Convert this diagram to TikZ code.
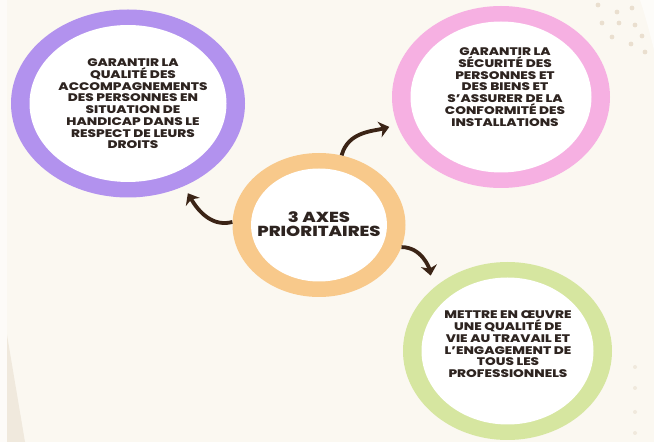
\documentclass[tikz,border=0pt]{standalone}
\usepackage{fontspec}
\newfontfamily\axefont{Poppins}[BoldFont={Poppins ExtraBold},FakeStretch=1.24]
\usetikzlibrary{arrows.meta,calc,shapes.geometric}

\definecolor{fond}{HTML}{FBF8F1}
\definecolor{lavande}{HTML}{B292EE}
\definecolor{rose}{HTML}{F6B0E2}
\definecolor{peche}{HTML}{F8C98B}
\definecolor{anis}{HTML}{D6E6A0}
\definecolor{encre}{HTML}{2E2420}
\definecolor{brun}{HTML}{3B2416}
\definecolor{sable}{HTML}{EADFCF}

\begin{document}
\begin{tikzpicture}
    [x=1pt,y=1pt,
     ring/.style={ellipse,inner sep=0pt,fill=#1,
       path picture={\fill [white] let \p1=(path picture bounding box.north east),
         \p2=(path picture bounding box.center) in
         (\p2) ellipse [x radius=\x1-\x2-18.5pt,y radius=\y1-\y2-15.5pt];}},
     axetext/.style={align=center,inner sep=0pt,text=encre,
       font=\axefont\bfseries\fontsize{11}{11.75}\selectfont},
     flow/.style={-{Stealth[length=10pt,width=16pt,inset=3pt]},line width=3.8pt,draw=brun}]
    \useasboundingbox (0,0) rectangle (654,442);
    % background
    \fill [fond] (0,0) rectangle (654,442);
    \fill [white,opacity=0.5] (0,0) rectangle (7,442);
    \fill [sable!70] (7,107) -- (25,0) -- (7,0) -- cycle;
    \fill [white,opacity=0.6] (640,442) .. controls (646,425) and (652,400) .. (654,392) -- (654,442) -- cycle;
    \foreach \p in {(598,437),(617,430),(632,434),(602,419),(619,419),(635,417),(612,405),(631,398),(642,406),(645,390)}
      \fill [sable] \p circle (2.4);
    \foreach \p in {(635,75),(635,54),(635,30),(635,9)}
      \fill [sable!70] \p circle (2);
    % rings
    \node (qualite)  at (128,338.5) [ring=lavande,minimum width=234pt,minimum height=188pt] {};
    \node (securite) at (501,345)   [ring=rose,minimum width=218pt,minimum height=182pt] {};
    \node (axes)     at (319,217)   [ring=peche,minimum width=173pt,minimum height=144pt] {};
    \node (qvt)      at (507.5,91)  [ring=anis,minimum width=209pt,minimum height=178pt] {};
    % texts
    \node (qualtxt) at (133,338) [axetext]
      {GARANTIR LA\\QUALITÉ DES\\ACCOMPAGNEMENTS\\DES PERSONNES EN\\SITUATION DE\\HANDICAP DANS LE\\RESPECT DE LEURS\\DROITS};
    \node (sectxt) at (505,355) [axetext]
      {GARANTIR LA\\SÉCURITÉ DES\\PERSONNES ET\\DES BIENS ET\\S’ASSURER DE LA\\CONFORMITÉ DES\\INSTALLATIONS};
    \node (axetxt) at (319,218) [axetext,font=\axefont\bfseries\fontsize{14.5}{14.5}\selectfont]
      {3 AXES\\PRIORITAIRES};
    \node (qvttxt) at (508,97.7) [axetext]
      {METTRE EN ŒUVRE\\UNE QUALITÉ DE\\VIE AU TRAVAIL ET\\L’ENGAGEMENT DE\\TOUS LES\\PROFESSIONNELS};
    % arrows
    \draw [flow,shorten >=8pt] (axes.178) to [out=195,in=-60] (qualite.-56);
    \draw [flow,shorten >=8pt] (axes.72) to [out=75,in=195] (securite.195.5);
    \draw [flow,shorten >=13pt] (axes.-15) to [out=0,in=100] (qvt.140);
\end{tikzpicture}
\end{document}
